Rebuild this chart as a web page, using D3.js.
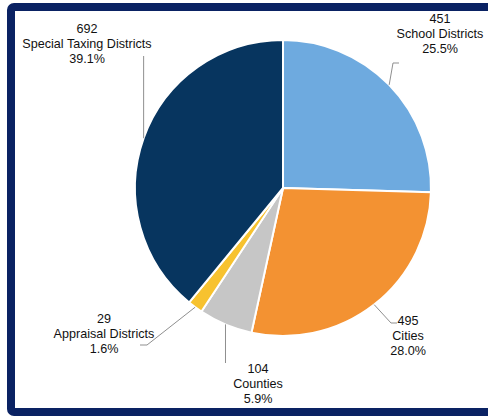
<!DOCTYPE html>
<html>
<head>
<meta charset="utf-8">
<script src="https://cdn.jsdelivr.net/npm/d3@7"></script>
<style>
  html, body { margin: 0; padding: 0; background: #fff; }
  svg { display: block; }
  text { font-family: "Liberation Sans", Arial, sans-serif; font-size: 12.6px; fill: #111; }
</style>
</head>
<body>
<svg id="chart" width="488" height="416"></svg>
<script>
// values
const categories = ['School Districts', 'Cities', 'Counties', 'Appraisal Districts', 'Special Taxing Districts']
const counts = [451, 495, 104, 29, 692]
const percents = ['25.5%', '28.0%', '5.9%', '1.6%', '39.1%']
const colors = ['#6eaadf', '#f39232', '#c6c6c6', '#f7c22f', '#07355f']

// label placement (x centre, first baseline) and leader elbows
const labelPos = [[440, 23], [408, 325], [258, 373], [104, 323], [87, 33]]
const leaderPts = [
  [[393, 63], [399, 63]],
  [[391, 323], [397, 323]],
  [[null, 363]],
  [[147, 345], [140, 345]],
  [[null, 56]]
]

const svg = d3.select('#chart')

// navy frame
svg.append('rect')
  .attr('x', 11).attr('y', 7)
  .attr('width', 492).attr('height', 405)
  .attr('rx', 3)
  .attr('fill', '#fff')
  .attr('stroke', '#0a2263')
  .attr('stroke-width', 8)

const cx = 283
const cy = 188
const radius = 148

const pie = d3.pie().sort(null).value(d => d)
const arcs = pie(counts)

const arc = d3.arc().innerRadius(0).outerRadius(radius)
const edgeArc = d3.arc().innerRadius(radius).outerRadius(radius)

const g = svg.append('g').attr('transform', `translate(${cx},${cy})`)

g.selectAll('path.slice')
  .data(arcs)
  .enter().append('path')
  .attr('class', 'slice')
  .attr('d', arc)
  .attr('fill', (d, i) => colors[i])
  .attr('stroke', '#fff')
  .attr('stroke-width', 2)
  .attr('stroke-linejoin', 'round')

// leader lines
const line = d3.line()
arcs.forEach(function (d, i) {
  const c = edgeArc.centroid(d)
  const start = [cx + c[0], cy + c[1]]
  const pts = [start].concat(leaderPts[i].map(p => [p[0] === null ? start[0] : p[0], p[1]]))
  svg.append('path')
    .attr('d', line(pts))
    .attr('fill', 'none')
    .attr('stroke', '#8f8f8f')
    .attr('stroke-width', 1)
})

// labels
categories.forEach(function (name, i) {
  const t = svg.append('text')
    .attr('x', labelPos[i][0])
    .attr('y', labelPos[i][1])
    .attr('text-anchor', 'middle')
  const rows = [counts[i], name, percents[i]]
  rows.forEach(function (r, k) {
    t.append('tspan')
      .attr('x', labelPos[i][0])
      .attr('dy', k === 0 ? 0 : 15)
      .text(r)
  })
})
</script>
</body>
</html>
